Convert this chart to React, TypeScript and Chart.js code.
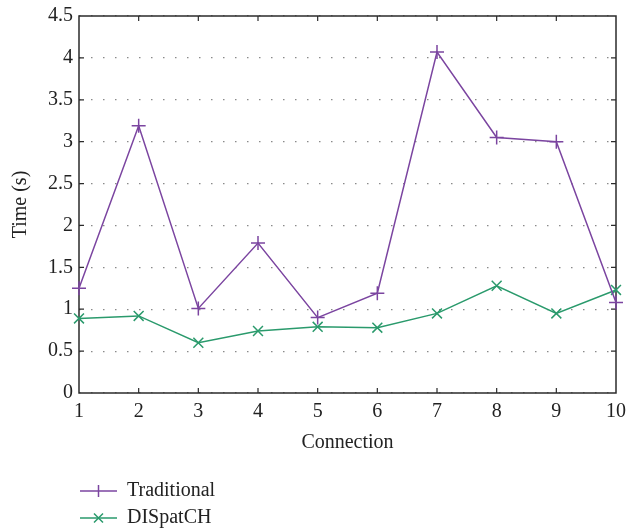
import React, { useEffect, useRef } from "react";
import { Chart, registerables } from "chart.js";

Chart.register(...registerables);

const categories = ["1", "2", "3", "4", "5", "6", "7", "8", "9", "10"];
const traditional = [1.25, 3.19, 1.01, 1.79, 0.9, 1.19, 4.07, 3.05, 3.0, 1.08];
const dispatch = [0.89, 0.92, 0.6, 0.74, 0.79, 0.78, 0.95, 1.28, 0.95, 1.23];
const seriesNames = ["Traditional", "DISpatCH"];
const yTitle = "Time (s)";
const xTitle = "Connection";

const PURPLE = "#7b45a0";
const GREEN = "#2a9a6c";
const FONT = "'Liberation Serif', 'DejaVu Serif', serif";
const FS = 20;

const framePlugin = {
  id: "frame",
  beforeDatasetsDraw(chart: any) {
    const { ctx, chartArea: a, scales } = chart;
    ctx.save();
    ctx.strokeStyle = "#2b2b2b";
    ctx.lineWidth = 1.5;
    ctx.setLineDash([]);
    ctx.strokeRect(a.left, a.top, a.right - a.left, a.bottom - a.top);
    ctx.lineWidth = 1.2;
    const tl = 5;
    const xs = scales.x;
    for (let i = 1; i < categories.length - 1; i++) {
      const px = xs.getPixelForValue(i);
      ctx.beginPath();
      ctx.moveTo(px, a.bottom);
      ctx.lineTo(px, a.bottom - tl);
      ctx.moveTo(px, a.top);
      ctx.lineTo(px, a.top + tl);
      ctx.stroke();
    }
    const ys = scales.y;
    ys.ticks.forEach((t: any) => {
      if (t.value <= 0 || t.value >= 4.5) return;
      const py = ys.getPixelForValue(t.value);
      ctx.beginPath();
      ctx.moveTo(a.left, py);
      ctx.lineTo(a.left + tl, py);
      ctx.moveTo(a.right, py);
      ctx.lineTo(a.right - tl, py);
      ctx.stroke();
    });
    ctx.restore();
  },
  afterDraw(chart: any) {
    const { ctx, chartArea: a } = chart;
    ctx.save();
    const rows = [491, 518];
    chart.data.datasets.forEach((ds: any, i: number) => {
      const y = rows[i];
      const x0 = a.left + 1;
      const x1 = x0 + 37;
      ctx.strokeStyle = ds.borderColor;
      ctx.lineWidth = 1.5;
      ctx.beginPath();
      ctx.moveTo(x0, y);
      ctx.lineTo(x1, y);
      ctx.stroke();
      const cx = (x0 + x1) / 2;
      const r = 6;
      ctx.beginPath();
      if (ds.pointStyle === "cross") {
        ctx.moveTo(cx, y - r);
        ctx.lineTo(cx, y + r);
      } else {
        const d = r * 0.75;
        ctx.moveTo(cx - d, y - d);
        ctx.lineTo(cx + d, y + d);
        ctx.moveTo(cx - d, y + d);
        ctx.lineTo(cx + d, y - d);
      }
      ctx.stroke();
      ctx.fillStyle = "#222";
      ctx.font = `${FS}px ${FONT}`;
      ctx.textBaseline = "middle";
      ctx.textAlign = "left";
      ctx.fillText(ds.label, x1 + 10, y);
    });
    ctx.restore();
  },
};

export default function App() {
  const ref = useRef<HTMLCanvasElement>(null);
  useEffect(() => {
    document.body.style.margin = "0";
    const chart = new Chart(ref.current!, {
      type: "line",
      data: {
        labels: categories,
        datasets: [
          {
            label: seriesNames[0],
            data: traditional,
            borderColor: PURPLE,
            backgroundColor: PURPLE,
            borderWidth: 1.5,
            pointStyle: "cross",
            pointRadius: 7,
            pointBorderWidth: 1.5,
            tension: 0,
          },
          {
            label: seriesNames[1],
            data: dispatch,
            borderColor: GREEN,
            backgroundColor: GREEN,
            borderWidth: 1.5,
            pointStyle: "crossRot",
            pointRadius: 7,
            pointBorderWidth: 1.5,
            tension: 0,
          },
        ],
      },
      options: {
        animation: false,
        responsive: false,
        layout: { padding: { top: 5, right: 0, bottom: 76, left: 9 } },
        plugins: { legend: { display: false }, tooltip: { enabled: false } },
        scales: {
          x: {
            offset: false,
            grid: { display: false, drawTicks: false },
            border: { display: false },
            ticks: { color: "#222", font: { family: FONT, size: FS }, padding: 7, maxRotation: 0 },
            title: { display: true, text: xTitle, color: "#222", font: { family: FONT, size: FS }, padding: { top: 0, bottom: 0 } },
            afterFit: (scale: any) => {
              scale.paddingRight = 11;
            },
          },
          y: {
            min: 0,
            max: 4.5,
            ticks: {
              stepSize: 0.5,
              color: "#222",
              font: { family: FONT, size: FS, lineHeight: 1 },
              padding: 6,
              callback: (v: any) => String(Number(v)),
            },
            grid: { color: "#8a8a8a", lineWidth: 1.2, drawTicks: false },
            border: { display: false, dash: [1.5, 10.5] },
            title: { display: true, text: yTitle, color: "#222", font: { family: FONT, size: FS }, padding: { top: 0, bottom: 9 } },
          },
        },
      },
      plugins: [framePlugin],
    });
    return () => chart.destroy();
  }, []);
  return (
    <div style={{ width: 627, height: 531 }}>
      <canvas ref={ref} width={627} height={531} />
    </div>
  );
}
